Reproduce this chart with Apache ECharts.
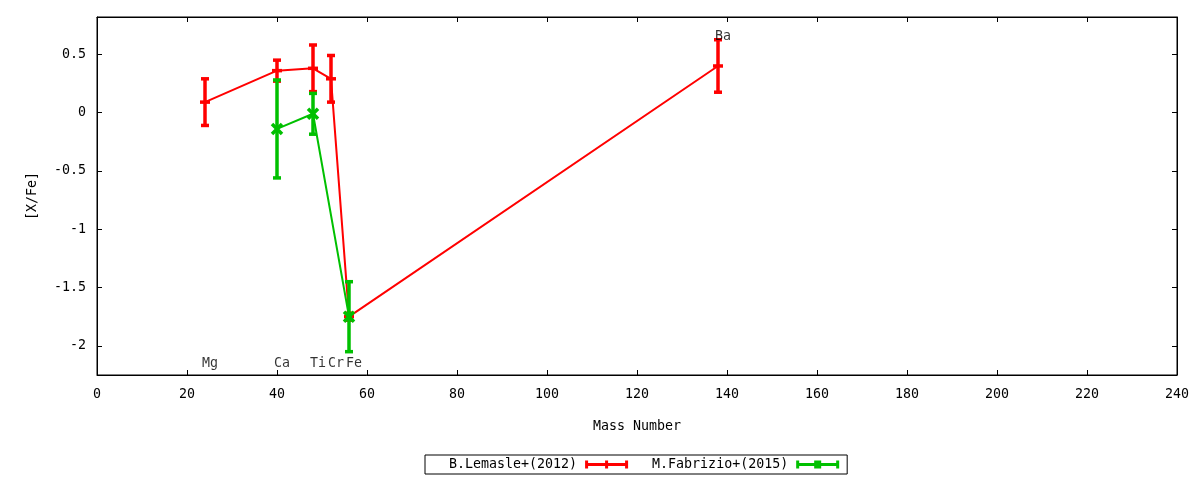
<!DOCTYPE html>
<html>
<head>
<meta charset="utf-8">
<script src="https://cdn.jsdelivr.net/npm/echarts@6/dist/echarts.min.js"></script>
<style>
  html, body { margin: 0; padding: 0; background: #fff; }
  #chart { width: 1200px; height: 480px; }
</style>
</head>
<body>
<div id="chart"></div>
<script>
'use strict';

// mass numbers of the elements
var elements = ['Mg', 'Ca', 'Ti', 'Cr', 'Fe', 'Ba'];
var masses = [24, 40, 48, 52, 56, 138];

// B.Lemasle+(2012): [X/Fe] and errors, one per element
var lemasleVals = [0.09, 0.36, 0.38, 0.29, -1.75, 0.40];
var lemasleErrs = [0.20, 0.09, 0.20, 0.20, 0.03, 0.225];

// M.Fabrizio+(2015): Ca, Ti, Fe only
var fabrizioMass = [40, 48, 56];
var fabrizioVals = [-0.14, -0.01, -1.75];
var fabrizioErrs = [0.42, 0.175, 0.30];

// element labels: bottom row and Ba at the top
var labelNames = ['Mg', 'Ca', 'Ti', 'Cr', 'Fe', 'Ba'];
var labelX = [24, 40, 48, 52, 56, 138];
var labelY = [-2.15, -2.15, -2.15, -2.15, -2.15, 0.65];

var yTicks = [-2, -1.5, -1, -0.5, 0, 0.5];

var RED = '#ff0000',
		GREEN = '#00c000',
		FONT = 'DejaVu Sans Mono',
		FSIZE = 13.3;

function zip3(a, b, c) {
	var out = [];
	for (var i = 0; i < a.length; i++) {
		out.push([a[i], b[i], c ? c[i] : 0]);
	}
	return out;
}

function errorBars(color, marker) {
	return function (params, api) {
		var x = api.value(0), y = api.value(1), e = api.value(2);
		var top = api.coord([x, y + e]),
				bot = api.coord([x, y - e]),
				mid = api.coord([x, y]);
		var cap = 4, m = 5;
		var style = {stroke: color, lineWidth: 3.5};
		var kids = [
			{type: 'line', shape: {x1: top[0], y1: top[1], x2: bot[0], y2: bot[1]}, style: style},
			{type: 'line', shape: {x1: top[0] - cap, y1: top[1], x2: top[0] + cap, y2: top[1]}, style: style},
			{type: 'line', shape: {x1: bot[0] - cap, y1: bot[1], x2: bot[0] + cap, y2: bot[1]}, style: style}
		];
		if (marker === 'plus') {
			kids.push({type: 'line', shape: {x1: mid[0] - m, y1: mid[1], x2: mid[0] + m, y2: mid[1]}, style: style});
		} else {
			kids.push({type: 'line', shape: {x1: mid[0] - m, y1: mid[1] - m, x2: mid[0] + m, y2: mid[1] + m}, style: style});
			kids.push({type: 'line', shape: {x1: mid[0] - m, y1: mid[1] + m, x2: mid[0] + m, y2: mid[1] - m}, style: style});
		}
		return {type: 'group', children: kids};
	};
}

var redIcon = 'path://M0,0h3v8h-3z M40,0h3v8h-3z M0,2.5h43v3h-43z M20,0h3v8h-3z';
var greenIcon = 'path://M0,0h3v8h-3z M40,0h3v8h-3z M0,2.5h43v3h-43z M18,0h7v8h-7z';

var chart = echarts.init(document.getElementById('chart'));

var axisText = {color: '#000', fontFamily: FONT, fontSize: FSIZE};

chart.setOption({
	animation: false,
	textStyle: {fontFamily: FONT},
	grid: {left: 97, right: 23, top: 17, bottom: 105, show: true, borderColor: '#000', borderWidth: 1},
	legend: {
		left: 425,
		top: 455,
		align: 'right',
		orient: 'horizontal',
		itemWidth: 43,
		itemHeight: 8,
		itemGap: 24,
		padding: [3, 8, 3, 24],
		borderColor: '#000',
		borderWidth: 1,
		textStyle: {color: '#000', fontFamily: FONT, fontSize: FSIZE, padding: [0, 3, 0, 0]},
		data: [
			{name: 'B.Lemasle+(2012)', icon: redIcon, itemStyle: {color: RED}},
			{name: 'M.Fabrizio+(2015)', icon: greenIcon, itemStyle: {color: GREEN}}
		]
	},
	xAxis: [
		{
			type: 'value', min: 0, max: 240, interval: 20,
			name: 'Mass Number', nameLocation: 'middle', nameGap: 45,
			nameTextStyle: axisText,
			axisLine: {show: true, onZero: false, lineStyle: {color: '#000'}},
			axisTick: {show: true, inside: true, length: 5, lineStyle: {color: '#000'}},
			axisLabel: Object.assign({margin: 13}, axisText),
			splitLine: {show: false}
		},
		{
			type: 'value', min: 0, max: 240, interval: 20, position: 'top',
			axisLine: {show: true, onZero: false, lineStyle: {color: '#000'}},
			axisTick: {show: true, inside: true, length: 5, lineStyle: {color: '#000'}},
			axisLabel: {show: false},
			splitLine: {show: false}
		}
	],
	yAxis: [
		{
			type: 'value', min: -2.25, max: 0.82,
			name: '[X/Fe]', nameLocation: 'middle', nameGap: 58, nameRotate: 90,
			nameTextStyle: axisText,
			axisLine: {show: true, onZero: false, lineStyle: {color: '#000'}},
			axisTick: {show: true, inside: true, length: 5, customValues: yTicks, lineStyle: {color: '#000'}},
			axisLabel: Object.assign({margin: 11, customValues: yTicks}, axisText),
			splitLine: {show: false}
		},
		{
			type: 'value', min: -2.25, max: 0.82, position: 'right',
			axisLine: {show: true, onZero: false, lineStyle: {color: '#000'}},
			axisTick: {show: true, inside: true, length: 5, customValues: yTicks, lineStyle: {color: '#000'}},
			axisLabel: {show: false},
			splitLine: {show: false}
		}
	],
	series: [
		{
			name: 'B.Lemasle+(2012)', type: 'line',
			data: zip3(masses, lemasleVals),
			showSymbol: false, symbol: 'none',
			lineStyle: {color: RED, width: 2},
			itemStyle: {color: RED},
			z: 2
		},
		{
			name: 'B.Lemasle+(2012)', type: 'custom',
			renderItem: errorBars(RED, 'plus'),
			data: zip3(masses, lemasleVals, lemasleErrs),
			itemStyle: {color: RED},
			encode: {x: 0, y: 1},
			z: 3
		},
		{
			name: 'M.Fabrizio+(2015)', type: 'line',
			data: zip3(fabrizioMass, fabrizioVals),
			showSymbol: false, symbol: 'none',
			lineStyle: {color: GREEN, width: 2},
			itemStyle: {color: GREEN},
			z: 4
		},
		{
			name: 'M.Fabrizio+(2015)', type: 'custom',
			renderItem: errorBars(GREEN, 'cross'),
			data: zip3(fabrizioMass, fabrizioVals, fabrizioErrs),
			itemStyle: {color: GREEN},
			encode: {x: 0, y: 1},
			z: 5
		},
		{
			name: 'labels', type: 'scatter',
			symbolSize: 0,
			silent: true,
			data: labelNames.map(function (n, i) { return [labelX[i], labelY[i], n]; }),
			label: {
				show: true,
				position: [-3, 0],
				align: 'left',
				verticalAlign: 'middle',
				color: '#000',
				fontFamily: FONT,
				fontSize: FSIZE,
				formatter: function (p) { return p.value[2]; }
			},
			z: 6
		}
	]
});
</script>
</body>
</html>
